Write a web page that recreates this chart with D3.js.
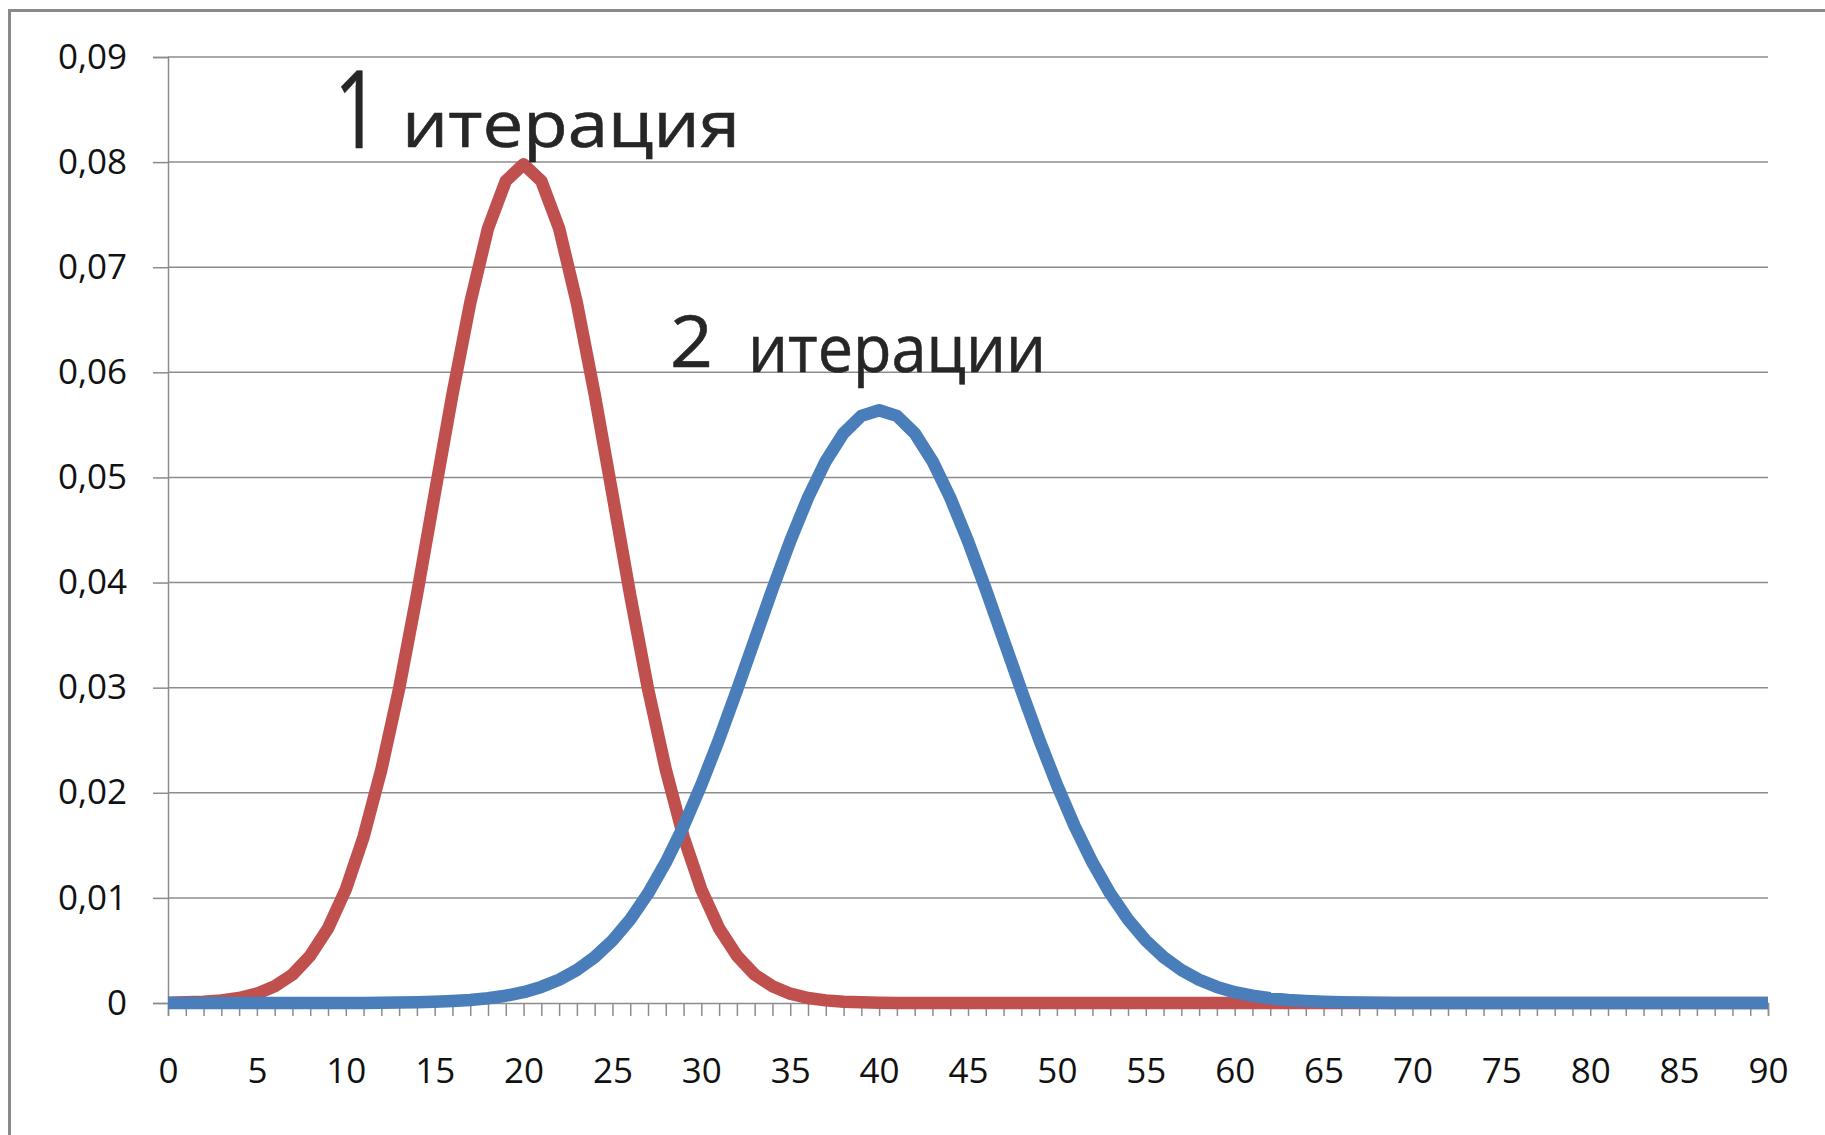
<!DOCTYPE html>
<html>
<head>
<meta charset="utf-8">
<script src="https://cdn.jsdelivr.net/npm/d3@7"></script>
<style>
  html, body { margin: 0; padding: 0; background: #fff; }
  svg { display: block; }
</style>
</head>
<body>
<div id="chart"></div>
<script>
// ---- Data ----
const categories = [0,1,2,3,4,5,6,7,8,9,10,11,12,13,14,15,16,17,18,19,20,21,22,23,24,25,26,27,28,29,30,
  31,32,33,34,35,36,37,38,39,40,41,42,43,44,45,46,47,48,49,50,51,52,53,54,55,56,57,58,59,60,
  61,62,63,64,65,66,67,68,69,70,71,72,73,74,75,76,77,78,79,80,81,82,83,84,85,86,87,88,89,90];

const iteration1 = [0.00003,0.00006,0.00012,0.00025,0.00048,0.00089,0.0016,0.0027,0.0045,0.0071,
  0.0108,0.0158,0.0222,0.0299,0.0388,0.0484,0.0579,0.0666,0.0737,0.0782,
  0.0798,0.0782,0.0737,0.0666,0.0579,0.0484,0.0388,0.0299,0.0222,0.0158,
  0.0108,0.0071,0.0045,0.0027,0.0016,0.00089,0.00048,0.00025,0.00012,0.00006,
  0.00003,0,0,0,0,0,0,0,0,0,
  0,0,0,0,0,0,0,0,0,0,
  0,0,0,0,0,0,0,0,0,0,
  0,0,0,0,0,0,0,0,0,0,
  0,0,0,0,0,0,0,0,0,0,
  0];

const iteration2 = [0,0,0,0,0,0,0,0,0,0,
  0.00001,0.00001,0.00002,0.00004,0.00007,0.00011,0.00018,0.00028,0.00045,0.00069,
  0.00103,0.00153,0.00221,0.00314,0.00436,0.00595,0.00795,0.01041,0.01337,0.01682,
  0.02076,0.02510,0.02975,0.03456,0.03936,0.04394,0.04808,0.05156,0.05421,0.05586,
  0.0564,0.05586,0.05421,0.05156,0.04808,0.04394,0.03936,0.03456,0.02975,0.02510,
  0.02076,0.01682,0.01337,0.01041,0.00795,0.00595,0.00436,0.00314,0.00221,0.00153,
  0.00103,0.00069,0.00045,0.00028,0.00018,0.00011,0.00007,0.00004,0.00002,0.00001,
  0.00001,0,0,0,0,0,0,0,0,0,
  0,0,0,0,0,0,0,0,0,0,
  0];

const yTicks = [0,0.01,0.02,0.03,0.04,0.05,0.06,0.07,0.08,0.09];
const xLabelTicks = [0,5,10,15,20,25,30,35,40,45,50,55,60,65,70,75,80,85,90];
const annotation1 = ["1", "итерация"];
const annotation2 = ["2", "итерации"];

// ---- Layout ----
const W = 1825, H = 1135;
const plot = { left: 168, right: 1768, top: 57, bottom: 1003 };

const svg = d3.select("#chart").append("svg")
  .attr("width", W).attr("height", H);

svg.append("rect").attr("width", W).attr("height", H).attr("fill", "#fff");

// outer frame (top and left edges visible)
svg.append("path")
  .attr("d", `M9.5,${H} L9.5,10.5 L${W},10.5`)
  .attr("fill", "none").attr("stroke", "#8a8a8a").attr("stroke-width", 3);

const x = d3.scaleLinear().domain([0, 90]).range([plot.left, plot.right]);
const y = d3.scaleLinear().domain([0, 0.09]).range([plot.bottom, plot.top]);

const fontFamily = "'Open Sans', 'DejaVu Sans', sans-serif";

// gridlines
svg.append("g").selectAll("line").data(yTicks.filter(d => d > 0)).join("line")
  .attr("x1", plot.left).attr("x2", plot.right)
  .attr("y1", d => y(d)).attr("y2", d => y(d))
  .attr("stroke", "#8c8c8c").attr("stroke-width", 1.5);

// y axis
const yAxis = svg.append("g")
  .attr("transform", `translate(${plot.left},0)`)
  .call(d3.axisLeft(y).tickValues(yTicks).tickSize(15).tickPadding(26)
    .tickFormat(d => d === 0 ? "0" : d3.format(".2f")(d).replace(".", ",")));
yAxis.select(".domain").attr("stroke", "#8c8c8c").attr("stroke-width", 1.5);
yAxis.selectAll(".tick line").attr("stroke", "#8c8c8c").attr("stroke-width", 1.5);
yAxis.selectAll(".tick text")
  .attr("font-family", fontFamily).attr("font-size", 35).attr("fill", "#111")
  .attr("dy", "0.32em");

// x axis
const xAxis = svg.append("g")
  .attr("transform", `translate(0,${plot.bottom})`)
  .call(d3.axisBottom(x).tickValues(categories).tickSize(13)
    .tickFormat(d => xLabelTicks.includes(d) ? String(d) : ""));
xAxis.select(".domain").attr("stroke", "#8c8c8c").attr("stroke-width", 1.5);
xAxis.selectAll(".tick line").attr("stroke", "#8c8c8c").attr("stroke-width", 1.5);
xAxis.selectAll(".tick text")
  .attr("font-family", fontFamily).attr("font-size", 35).attr("fill", "#111")
  .attr("y", 80).attr("dy", 0);

// lines
const line = d3.line().x((d, i) => x(categories[i])).y(d => y(d));

svg.append("path").datum(iteration1)
  .attr("d", line).attr("fill", "none")
  .attr("stroke", "#c0504d").attr("stroke-width", 12.5)
  .attr("stroke-linejoin", "round");

svg.append("path").datum(iteration2)
  .attr("d", line).attr("fill", "none")
  .attr("stroke", "#4a7ebb").attr("stroke-width", 12.5)
  .attr("stroke-linejoin", "round");

// handwritten-style annotations
const hand = "'Open Sans', 'DejaVu Sans', sans-serif";
function annotate(parts, numX, numY, numSize, numLen, wordX, wordY, wordSize, wordLen) {
  const g = svg.append("g").attr("fill", "#262626").attr("font-family", hand)
    .attr("stroke", "#262626").attr("stroke-width", 0.6);
  g.append("text").attr("x", numX).attr("y", numY)
    .attr("font-size", numSize)
    .attr("textLength", numLen).attr("lengthAdjust", "spacingAndGlyphs")
    .text(parts[0]);
  g.append("text").attr("x", wordX).attr("y", wordY)
    .attr("font-size", wordSize)
    .attr("textLength", wordLen).attr("lengthAdjust", "spacingAndGlyphs")
    .text(parts[1]);
}
annotate(annotation1, 334, 148, 108, 46, 402, 147, 64, 338);
annotate(annotation2, 670, 367, 72, 43, 748, 372, 66, 298);
</script>
</body>
</html>
